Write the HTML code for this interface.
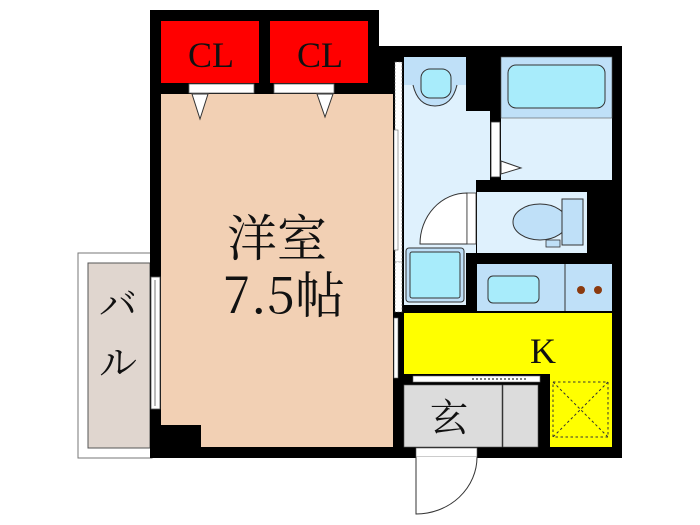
<!DOCTYPE html>
<html><head><meta charset="utf-8"><style>html,body{margin:0;padding:0;background:#fff;}svg{display:block}</style></head>
<body>
<svg width="700" height="525" viewBox="0 0 700 525" xmlns="http://www.w3.org/2000/svg" font-family="Liberation Serif, Noto Serif CJK SC, serif">
<rect width="700" height="525" fill="#fff"/>
<!-- balcony -->
<rect x="78" y="253" width="74" height="205" fill="#fff" stroke="#777" stroke-width="1"/>
<rect x="88" y="263" width="62" height="185" fill="#e0d6cf" stroke="#555" stroke-width="1"/>
<text x="118" y="318" font-size="38" text-anchor="middle" fill="#111" font-family="Noto Serif CJK SC, serif">バ</text>
<text x="118" y="376" font-size="38" text-anchor="middle" fill="#111" font-family="Noto Serif CJK SC, serif">ル</text>
<!-- black walls -->
<rect x="150" y="10" width="229" height="448" fill="#000"/>
<rect x="379" y="46" width="243" height="412" fill="#000"/>
<!-- closets -->
<rect x="161" y="21" width="98" height="62" fill="#f00"/>
<rect x="270" y="21" width="98" height="62" fill="#f00"/>
<text x="211" y="67" font-size="36" text-anchor="middle" fill="#111">CL</text>
<text x="320" y="67" font-size="36" text-anchor="middle" fill="#111">CL</text>
<rect x="189" y="84" width="65" height="9" fill="#fff" stroke="#666" stroke-width="0.8"/>
<rect x="274" y="84" width="60" height="9" fill="#fff" stroke="#666" stroke-width="0.8"/>
<!-- room -->
<polygon points="161,94 393,94 393,447 201,447 201,425 161,425" fill="#f2d0b4"/>
<polygon points="192,94 208,94 200,119" fill="#fff" stroke="#333" stroke-width="1"/>
<polygon points="317,94 333,94 325,117" fill="#fff" stroke="#333" stroke-width="1"/>
<text x="277" y="256" font-size="50" text-anchor="middle" fill="#111" font-family="Noto Serif CJK SC, serif">洋室</text>
<text x="284" y="313" font-size="50" text-anchor="middle" fill="#111" font-family="Noto Serif CJK SC, serif">7.5帖</text>
<!-- balcony window -->
<rect x="151" y="277" width="9" height="132" fill="#fff" stroke="#555" stroke-width="0.8"/>
<line x1="155" y1="280" x2="155" y2="406" stroke="#555" stroke-width="0.8"/>
<!-- right section windows on left wall -->
<rect x="395" y="62" width="7" height="200" fill="#fff" stroke="#666" stroke-width="0.6" stroke-dasharray="2,1.5"/>
<rect x="394" y="130" width="4" height="120" fill="#fff" stroke="#666" stroke-width="0.6"/>
<rect x="395" y="262" width="7" height="50" fill="#fff" stroke="#666" stroke-width="0.6" stroke-dasharray="2,1.5"/>
<rect x="394" y="318" width="4" height="60" fill="#fff" stroke="#666" stroke-width="0.6"/>
<!-- washroom -->
<polygon points="404,57 466,57 466,111 490,111 490,180 476,180 476,253 466,253 466,305 404,305" fill="#dff1fd"/>
<rect x="404" y="57" width="62" height="28" fill="#bfe0f8"/>
<path d="M413,85 Q418,106 435,106 Q452,106 457,85" fill="#bfe0f8" stroke="#333" stroke-width="1"/>
<rect x="421" y="69" width="30" height="29" rx="9" fill="#a8ecfb" stroke="#333" stroke-width="1"/>
<rect x="491" y="122" width="9" height="55" fill="#fff" stroke="#333" stroke-width="0.8"/>
<!-- bath -->
<rect x="501" y="57" width="111" height="123" fill="#dff1fd"/>
<rect x="501" y="57" width="111" height="61" fill="#bfe0f8" stroke="#555" stroke-width="0.6"/>
<rect x="508" y="65" width="97" height="43" rx="8" fill="#a8ecfb" stroke="#333" stroke-width="1"/>
<polygon points="501,161 521,168 501,174" fill="#fff" stroke="#333" stroke-width="1"/>
<!-- toilet -->
<rect x="477" y="192" width="110" height="61" fill="#dff1fd"/>
<ellipse cx="540" cy="222" rx="27" ry="18" fill="#bfe0f8" stroke="#333" stroke-width="1"/>
<rect x="562" y="199" width="21" height="46" fill="#bfe0f8" stroke="#333" stroke-width="1"/>
<rect x="546" y="240" width="14" height="7" fill="#bfe0f8" stroke="#333" stroke-width="0.8"/>
<path d="M467,193 A47,51 0 0 0 420,244 L467,244 Z" fill="#fff" stroke="#333" stroke-width="1"/>
<rect x="467" y="193" width="9" height="51" fill="#fff" stroke="#333" stroke-width="0.8"/>
<!-- washing machine -->
<rect x="406" y="248" width="58" height="54" rx="3" fill="#bfe0f8" stroke="#333" stroke-width="1"/>
<rect x="410" y="252" width="50" height="46" rx="2" fill="#a8ecfb" stroke="#333" stroke-width="1"/>
<!-- kitchen counter -->
<rect x="477" y="264" width="135" height="47" fill="#bfe0f8"/>
<line x1="565" y1="264" x2="565" y2="311" stroke="#333" stroke-width="1"/>
<rect x="488" y="276" width="51" height="27" rx="5" fill="#a8ecfb" stroke="#333" stroke-width="1"/>
<circle cx="581" cy="290" r="4" fill="#8b3a0f"/>
<circle cx="598" cy="290" r="4" fill="#8b3a0f"/>
<!-- kitchen -->
<polygon points="404,313 612,313 612,447 550,447 550,374 404,374" fill="#ff0"/>
<text x="543" y="363" font-size="36" text-anchor="middle" fill="#111">K</text>
<rect x="553" y="382" width="55" height="55" fill="none" stroke="#333" stroke-width="1" stroke-dasharray="2.5,2.5"/>
<line x1="553" y1="382" x2="608" y2="437" stroke="#333" stroke-width="1" stroke-dasharray="2.5,2.5"/>
<line x1="608" y1="382" x2="553" y2="437" stroke="#333" stroke-width="1" stroke-dasharray="2.5,2.5"/>
<!-- genkan -->
<rect x="413" y="376" width="127" height="6" fill="#fff" stroke="#666" stroke-width="0.6"/>
<line x1="472" y1="379" x2="528" y2="379" stroke="#555" stroke-width="1.5" stroke-dasharray="2,2"/>
<rect x="404" y="385" width="98" height="62" fill="#dcdcdc" stroke="#555" stroke-width="0.6"/>
<rect x="503" y="385" width="35" height="62" fill="#dcdcdc" stroke="#555" stroke-width="0.6"/>
<text x="449" y="431" font-size="38" text-anchor="middle" fill="#111" font-family="Noto Serif CJK SC, serif">玄</text>
<!-- entrance door -->
<rect x="416" y="448" width="61" height="9" fill="#fff" stroke="#555" stroke-width="0.6"/>
<path d="M416,457 L416,514 A61,57 0 0 0 477,457" fill="#fff" stroke="#333" stroke-width="1"/>
</svg>
</body></html>
